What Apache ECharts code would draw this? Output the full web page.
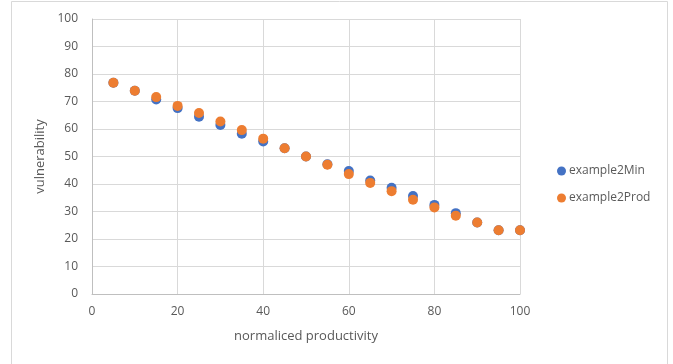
<!DOCTYPE html>
<html>
<head>
<meta charset="utf-8">
<script src="https://cdn.jsdelivr.net/npm/echarts@6/dist/echarts.min.js"></script>
<style>
  html, body { margin: 0; padding: 0; background: #fff; }
  #chart { width: 673px; height: 364px; }
</style>
</head>
<body>
<div id="chart"></div>
<script>
// Normalised productivity levels shared by both series
var productivity = [5, 10, 15, 20, 25, 30, 35, 40, 45, 50, 55, 60, 65, 70, 75, 80, 85, 90, 95, 100];
var example2Min  = [76.8, 73.9, 70.7, 67.6, 64.5, 61.5, 58.3, 55.5, 53.0, 50.0, 47.2, 44.7, 41.3, 38.6, 35.6, 32.4, 29.4, 26.0, 23.2, 23.2];
var example2Prod = [76.8, 73.9, 71.6, 68.4, 65.8, 62.7, 59.6, 56.5, 53.0, 50.0, 47.0, 43.6, 40.4, 37.4, 34.3, 31.5, 28.5, 26.0, 23.2, 23.2];
var xTicks = [0, 20, 40, 60, 80, 100];
var yTicks = [0, 10, 20, 30, 40, 50, 60, 70, 80, 90, 100];

function pairs(xs, ys) {
  return xs.map(function (x, i) { return [x, ys[i]]; });
}

var font = '"Open Sans", "Liberation Sans", sans-serif';
var textColor = '#595959';
var chart = echarts.init(document.getElementById('chart'), null, { renderer: 'canvas' });

chart.setOption({
  animation: false,
  backgroundColor: '#ffffff',
  graphic: [{
    type: 'rect',
    shape: { x: 11.5, y: 1.5, width: 656, height: 370 },
    style: { fill: 'none', stroke: '#d9d9d9', lineWidth: 1 },
    silent: true
  }],
  grid: { left: 92, right: 153, top: 19, bottom: 70 },
  legend: {
    orient: 'vertical',
    left: 552,
    top: 160,
    itemWidth: 9,
    itemHeight: 9,
    itemGap: 15,
    icon: 'circle',
    textStyle: { color: textColor, fontSize: 12, fontFamily: font, padding: [0, 0, 0, -2] },
    data: ['example2Min', 'example2Prod']
  },
  xAxis: {
    type: 'value',
    min: xTicks[0],
    max: xTicks[xTicks.length - 1],
    interval: 20,
    name: 'normaliced productivity',
    nameLocation: 'middle',
    nameGap: 36,
    nameTextStyle: { color: textColor, fontSize: 13, fontFamily: font },
    axisLine: { show: true, lineStyle: { color: '#bfbfbf' } },
    axisTick: { show: false },
    axisLabel: { color: textColor, fontSize: 12, fontFamily: font, margin: 12 },
    splitLine: { show: true, lineStyle: { color: '#d9d9d9', width: 1 } }
  },
  yAxis: {
    type: 'value',
    min: yTicks[0],
    max: yTicks[yTicks.length - 1],
    interval: 10,
    name: 'vulnerability',
    nameLocation: 'middle',
    nameGap: 39,
    nameTextStyle: { color: textColor, fontSize: 13, fontFamily: font },
    axisLine: { show: true, lineStyle: { color: '#bfbfbf' } },
    axisTick: { show: false },
    axisLabel: { color: textColor, fontSize: 12, fontFamily: font, margin: 14 },
    splitLine: { show: true, lineStyle: { color: '#d9d9d9', width: 1 } }
  },
  series: [
    {
      name: 'example2Min',
      type: 'scatter',
      symbol: 'circle',
      symbolSize: 10,
      itemStyle: { color: '#4472c4', opacity: 1 },
      data: pairs(productivity, example2Min)
    },
    {
      name: 'example2Prod',
      type: 'scatter',
      symbol: 'circle',
      symbolSize: 10,
      itemStyle: { color: '#ed7d31', opacity: 1 },
      data: pairs(productivity, example2Prod)
    }
  ]
});
</script>
</body>
</html>
